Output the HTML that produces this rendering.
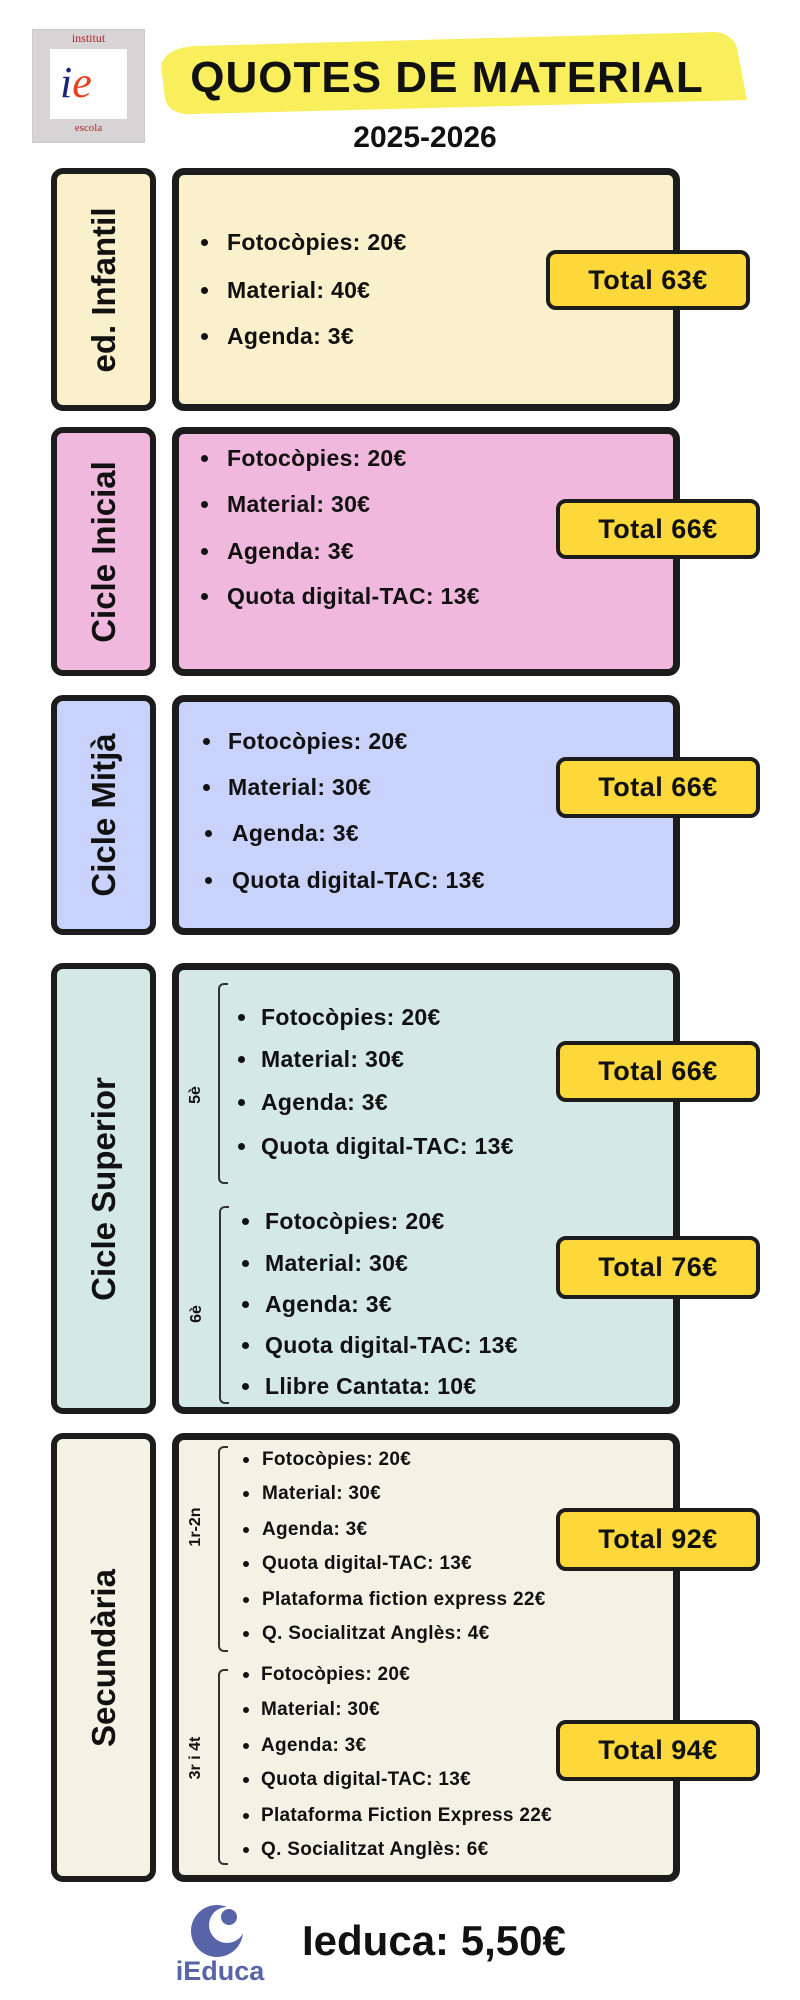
<!DOCTYPE html>
<html><head><meta charset="utf-8">
<style>
*{margin:0;padding:0;box-sizing:border-box}
body{width:800px;height:2000px;background:#fff;position:relative;overflow:hidden;font-family:"Liberation Sans",sans-serif;color:#111}
.a{position:absolute}
.lab{position:absolute;left:51px;width:105px;border:6px solid #1c1c1c;border-radius:12px}
.box{position:absolute;left:172px;width:508px;border:7px solid #1c1c1c;border-radius:12px}
.vt{position:absolute;left:50%;top:50%;transform:translate(-50%,-50%) rotate(-90deg);white-space:nowrap;font-size:33px;font-weight:bold}
.tot{position:absolute;background:#fdd83a;border:4px solid #1c1c1c;border-radius:10px;font-size:27px;font-weight:bold;display:flex;align-items:center;justify-content:center;letter-spacing:0.5px}
.it{position:absolute;white-space:nowrap;font-size:23px;line-height:30px;height:30px;font-weight:bold;letter-spacing:0.3px}
.it.s{font-size:19px;line-height:24px;height:24px}
.dot{position:absolute;width:7px;height:7px;border-radius:50%;background:#111}
.br{position:absolute;width:10px;border:2px solid #333;border-right:none;border-radius:6px 0 0 6px}
.bl{position:absolute;white-space:nowrap;font-size:16px;font-weight:bold;transform:translate(-50%,-50%) rotate(-90deg)}
</style></head><body>

<!-- logo -->
<div class="a" style="left:32px;top:29px;width:113px;height:114px;background:#d8d3d4;border:1px solid #ccc"></div>
<div class="a" style="left:50px;top:49px;width:77px;height:70px;background:#fff"></div>
<div class="a" style="left:32px;top:31px;width:113px;text-align:center;font-size:12px;color:#a52a2a;font-family:'Liberation Serif',serif">institut</div>
<div class="a" style="left:32px;top:122px;width:113px;text-align:center;font-size:11px;color:#a52a2a;font-family:'Liberation Serif',serif">escola</div>
<div class="a" style="left:60px;top:58px;font-size:44px;font-style:italic;font-family:'Liberation Serif',serif;line-height:50px"><span style="color:#1a237e">i</span><span style="color:#e8401c">e</span></div>

<!-- banner -->
<svg class="a" style="left:155px;top:18px" width="600" height="100"><path d="M6 48 Q10 30 40 28 L560 14 Q578 16 582 30 L592 82 L40 96 Q14 98 10 80 Z" fill="#f9ef5c"/></svg>
<div class="a" style="left:157px;top:52px;width:580px;text-align:center;font-size:44px;font-weight:bold;letter-spacing:1px;line-height:52px">QUOTES DE MATERIAL</div>
<div class="a" style="left:300px;top:120px;width:250px;text-align:center;font-size:30px;font-weight:bold;line-height:36px">2025-2026</div>

<!-- section 1 -->
<div class="lab" style="top:168px;height:243px;background:#faf0cb"><div class="vt">ed. Infantil</div></div>
<div class="box" style="top:168px;height:243px;background:#faf0cb"></div>
<div class="dot" style="left:201px;top:239px"></div><div class="it" style="left:227px;top:227px">Fotocòpies: 20€</div>
<div class="dot" style="left:201px;top:287px"></div><div class="it" style="left:227px;top:275px">Material: 40€</div>
<div class="dot" style="left:201px;top:333px"></div><div class="it" style="left:227px;top:321px">Agenda: 3€</div>
<div class="tot" style="left:546px;top:250px;width:204px;height:60px">Total 63€</div>

<!-- section 2 -->
<div class="lab" style="top:427px;height:249px;background:#efb8dc"><div class="vt">Cicle Inicial</div></div>
<div class="box" style="top:427px;height:249px;background:#efb8dc"></div>
<div class="dot" style="left:201px;top:455px"></div><div class="it" style="left:227px;top:443px">Fotocòpies: 20€</div>
<div class="dot" style="left:201px;top:501px"></div><div class="it" style="left:227px;top:489px">Material: 30€</div>
<div class="dot" style="left:201px;top:548px"></div><div class="it" style="left:227px;top:536px">Agenda: 3€</div>
<div class="dot" style="left:201px;top:593px"></div><div class="it" style="left:227px;top:581px">Quota digital-TAC: 13€</div>
<div class="tot" style="left:556px;top:499px;width:204px;height:60px">Total 66€</div>

<!-- section 3 -->
<div class="lab" style="top:695px;height:240px;background:#c8d2fb"><div class="vt">Cicle Mitjà</div></div>
<div class="box" style="top:695px;height:240px;background:#c8d2fb"></div>
<div class="dot" style="left:203px;top:738px"></div><div class="it" style="left:228px;top:726px">Fotocòpies: 20€</div>
<div class="dot" style="left:203px;top:784px"></div><div class="it" style="left:228px;top:772px">Material: 30€</div>
<div class="dot" style="left:205px;top:830px"></div><div class="it" style="left:232px;top:818px">Agenda: 3€</div>
<div class="dot" style="left:205px;top:877px"></div><div class="it" style="left:232px;top:865px">Quota digital-TAC: 13€</div>
<div class="tot" style="left:556px;top:757px;width:204px;height:61px">Total 66€</div>

<!-- section 4 -->
<div class="lab" style="top:963px;height:451px;background:#d4e8e4"><div class="vt">Cicle Superior</div></div>
<div class="box" style="top:963px;height:451px;background:#d4e8e4"></div>
<div class="br" style="left:218px;top:983px;height:201px"></div>
<div class="bl" style="left:196px;top:1095px">5è</div>
<div class="dot" style="left:238px;top:1014px"></div><div class="it" style="left:261px;top:1002px">Fotocòpies: 20€</div>
<div class="dot" style="left:238px;top:1056px"></div><div class="it" style="left:261px;top:1044px">Material: 30€</div>
<div class="dot" style="left:238px;top:1099px"></div><div class="it" style="left:261px;top:1087px">Agenda: 3€</div>
<div class="dot" style="left:238px;top:1143px"></div><div class="it" style="left:261px;top:1131px">Quota digital-TAC: 13€</div>
<div class="tot" style="left:556px;top:1041px;width:204px;height:61px">Total 66€</div>
<div class="br" style="left:219px;top:1206px;height:198px"></div>
<div class="bl" style="left:197px;top:1314px">6è</div>
<div class="dot" style="left:242px;top:1218px"></div><div class="it" style="left:265px;top:1206px">Fotocòpies: 20€</div>
<div class="dot" style="left:242px;top:1260px"></div><div class="it" style="left:265px;top:1248px">Material: 30€</div>
<div class="dot" style="left:242px;top:1301px"></div><div class="it" style="left:265px;top:1289px">Agenda: 3€</div>
<div class="dot" style="left:242px;top:1342px"></div><div class="it" style="left:265px;top:1330px">Quota digital-TAC: 13€</div>
<div class="dot" style="left:242px;top:1383px"></div><div class="it" style="left:265px;top:1371px">Llibre Cantata: 10€</div>
<div class="tot" style="left:556px;top:1236px;width:204px;height:63px">Total 76€</div>

<!-- section 5 -->
<div class="lab" style="top:1433px;height:449px;background:#f4f2e4"><div class="vt">Secundària</div></div>
<div class="box" style="top:1433px;height:449px;background:#f4f2e4"></div>
<div class="br" style="left:218px;top:1446px;height:206px"></div>
<div class="bl" style="left:196px;top:1527px">1r-2n</div>
<div class="dot" style="left:243px;top:1457px;width:6px;height:6px"></div><div class="it s" style="left:262px;top:1448px">Fotocòpies: 20€</div>
<div class="dot" style="left:243px;top:1491px;width:6px;height:6px"></div><div class="it s" style="left:262px;top:1482px">Material: 30€</div>
<div class="dot" style="left:243px;top:1527px;width:6px;height:6px"></div><div class="it s" style="left:262px;top:1518px">Agenda: 3€</div>
<div class="dot" style="left:243px;top:1561px;width:6px;height:6px"></div><div class="it s" style="left:262px;top:1552px">Quota digital-TAC: 13€</div>
<div class="dot" style="left:243px;top:1597px;width:6px;height:6px"></div><div class="it s" style="left:262px;top:1588px">Plataforma fiction express 22€</div>
<div class="dot" style="left:243px;top:1631px;width:6px;height:6px"></div><div class="it s" style="left:262px;top:1622px">Q. Socialitzat Anglès: 4€</div>
<div class="tot" style="left:556px;top:1508px;width:204px;height:63px">Total 92€</div>
<div class="br" style="left:218px;top:1669px;height:196px"></div>
<div class="bl" style="left:196px;top:1758px">3r i 4t</div>
<div class="dot" style="left:243px;top:1672px;width:6px;height:6px"></div><div class="it s" style="left:261px;top:1663px">Fotocòpies: 20€</div>
<div class="dot" style="left:243px;top:1707px;width:6px;height:6px"></div><div class="it s" style="left:261px;top:1698px">Material: 30€</div>
<div class="dot" style="left:243px;top:1743px;width:6px;height:6px"></div><div class="it s" style="left:261px;top:1734px">Agenda: 3€</div>
<div class="dot" style="left:243px;top:1777px;width:6px;height:6px"></div><div class="it s" style="left:261px;top:1768px">Quota digital-TAC: 13€</div>
<div class="dot" style="left:243px;top:1813px;width:6px;height:6px"></div><div class="it s" style="left:261px;top:1804px">Plataforma Fiction Express 22€</div>
<div class="dot" style="left:243px;top:1847px;width:6px;height:6px"></div><div class="it s" style="left:261px;top:1838px">Q. Socialitzat Anglès: 6€</div>
<div class="tot" style="left:556px;top:1720px;width:204px;height:61px">Total 94€</div>

<!-- footer -->
<svg class="a" style="left:185px;top:1901px" width="70" height="60">
<circle cx="32" cy="30" r="26" fill="#5864a8"/><circle cx="42" cy="24" r="18" fill="#fff"/><circle cx="44" cy="16" r="8" fill="#5864a8"/></svg>
<div class="a" style="left:170px;top:1956px;width:100px;text-align:center;font-size:27px;font-weight:bold;color:#5864a8">iEduca</div>
<div class="a" style="left:302px;top:1915px;font-size:42px;font-weight:bold;line-height:52px">Ieduca: 5,50€</div>
</body></html>
